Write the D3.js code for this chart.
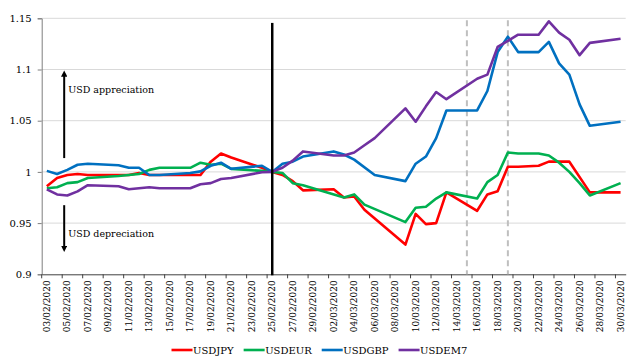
<!DOCTYPE html>
<html>
<head>
<meta charset="utf-8">
<script src="https://cdn.jsdelivr.net/npm/d3@7"></script>
<style>
  body { margin: 0; background: #fff; }
  svg text { font-family: 'DejaVu Serif', serif; fill: #000; }
</style>
</head>
<body>
<svg id="chart" width="638" height="360"></svg>
<script>
'use strict';

// one category per calendar day, 03/02/2020 .. 30/03/2020
let dates = [
  "03/02/2020","04/02/2020","05/02/2020","06/02/2020","07/02/2020","08/02/2020","09/02/2020",
  "10/02/2020","11/02/2020","12/02/2020","13/02/2020","14/02/2020","15/02/2020","16/02/2020",
  "17/02/2020","18/02/2020","19/02/2020","20/02/2020","21/02/2020","22/02/2020","23/02/2020",
  "24/02/2020","25/02/2020","26/02/2020","27/02/2020","28/02/2020","29/02/2020","01/03/2020",
  "02/03/2020","03/03/2020","04/03/2020","05/03/2020","06/03/2020","07/03/2020","08/03/2020",
  "09/03/2020","10/03/2020","11/03/2020","12/03/2020","13/03/2020","14/03/2020","15/03/2020",
  "16/03/2020","17/03/2020","18/03/2020","19/03/2020","20/03/2020","21/03/2020","22/03/2020",
  "23/03/2020","24/03/2020","25/03/2020","26/03/2020","27/03/2020","28/03/2020","29/03/2020",
  "30/03/2020"
];

// null = no point that day (line runs straight across)
let usdjpy = [
  0.986,0.994,0.997,0.998,0.997,null,null,
  0.997,0.997,0.999,0.997,0.997,null,null,
  0.997,0.997,1.010,1.018,1.014,null,null,
  1.004,1.000,0.997,0.991,0.982,null,null,
  0.983,0.975,0.976,0.963,null,null,null,
  0.929,0.959,0.949,0.950,0.980,null,null,
  0.962,0.978,0.981,1.005,1.005,null,1.006,
  1.010,1.010,1.010,null,0.980,null,null,
  0.980
];
let usdeur = [
  0.984,0.985,0.989,0.990,0.994,null,null,
  0.996,0.997,0.998,1.002,1.004,null,null,
  1.004,1.009,1.007,1.008,1.003,null,null,
  1.001,1.000,0.999,0.989,0.987,null,null,
  null,0.975,0.978,0.968,null,null,null,
  0.951,0.965,0.966,0.974,0.980,null,null,
  0.974,0.990,0.997,1.019,1.018,null,1.018,
  1.016,1.009,1.000,0.989,0.977,null,null,
  0.989
];
let usdgbp = [
  1.001,0.998,1.002,1.007,1.008,null,null,
  1.0065,1.004,1.004,0.997,0.997,null,null,
  0.999,1.0005,1.006,1.009,1.003,null,null,
  1.006,1.000,1.008,1.010,1.015,null,null,
  1.020,1.017,1.012,null,0.997,null,null,
  0.991,1.008,1.015,1.033,1.060,null,null,
  1.060,1.079,1.117,1.132,1.117,null,1.117,
  1.127,1.106,1.095,1.066,1.045,null,null,
  1.049
];
let usdem7 = [
  0.983,0.978,0.977,0.981,0.987,null,null,
  0.986,0.983,0.984,0.985,0.984,null,null,
  0.984,0.988,0.989,0.993,0.994,null,null,
  0.9996,1.000,1.004,1.011,1.020,null,null,
  1.016,1.016,1.019,1.026,1.033,null,null,
  1.062,1.049,1.064,1.078,1.071,null,null,
  1.091,1.095,1.122,1.128,1.134,null,1.134,
  1.147,1.136,1.129,1.114,1.126,null,null,
  1.130
];

let seriesNames = ["USDJPY", "USDEUR", "USDGBP", "USDEM7"];
let seriesColors = ["#ff0000", "#00b050", "#0070c0", "#7030a0"];
let yTicks = [0.9, 0.95, 1, 1.05, 1.1, 1.15];
let markerDate = "25/02/2020";
let dashedDates = ["15/03/2020", "19/03/2020"];

let margin = {top: 18.3, right: 12.3, bottom: 85.7, left: 41.7};
let width = 638 - margin.left - margin.right;
let height = 360 - margin.top - margin.bottom;

let svg = d3.select("#chart");
let g = svg.append("g")
  .attr("transform", "translate(" + margin.left + "," + margin.top + ")");

let x = d3.scaleBand().domain(dates).range([0, width]).padding(0);
let xc = function(d) { return x(d) + x.bandwidth() / 2; };
let y = d3.scaleLinear().domain([0.9, 1.15]).range([height, 0]);

// gridlines
g.append("g").selectAll("line")
  .data(yTicks.filter(function(d) { return d > 0.9; }))
  .enter().append("line")
    .attr("x1", 0).attr("x2", width)
    .attr("y1", function(d) { return y(d); })
    .attr("y2", function(d) { return y(d); })
    .attr("stroke", "#d9d9d9").attr("stroke-width", 1);

// y axis
let yAxis = g.append("g")
  .call(d3.axisLeft(y).tickValues(yTicks).tickSize(4).tickPadding(6)
    .tickFormat(function(d) { return String(+d.toFixed(2)); }));
yAxis.attr("font-family", null);
yAxis.select(".domain").attr("stroke", "#7f7f7f");
yAxis.selectAll(".tick line").attr("stroke", "#7f7f7f");
yAxis.selectAll("text").style("font-size", "10px");

// x axis: labels on every second category, tick marks on category boundaries
let labelDates = dates.filter(function(d, i) { return i % 2 === 0; });
let xAxis = g.append("g")
  .attr("transform", "translate(0," + height + ")")
  .call(d3.axisBottom(x).tickValues(labelDates).tickSize(0).tickSizeOuter(0));
xAxis.attr("font-family", null);
xAxis.select(".domain").attr("stroke", "#404040");
xAxis.selectAll("text")
  .style("font-size", "9px")
  .attr("text-anchor", "end")
  .attr("transform", "rotate(-90)")
  .attr("x", -6).attr("y", 0).attr("dy", "0.35em");
xAxis.selectAll(".boundary")
  .data(labelDates)
  .enter().append("line")
    .attr("class", "boundary")
    .attr("x1", function(d) { return x(d); })
    .attr("x2", function(d) { return x(d); })
    .attr("y1", 0).attr("y2", 4)
    .attr("stroke", "#404040");

// dashed event lines
g.selectAll(".event")
  .data(dashedDates)
  .enter().append("line")
    .attr("class", "event")
    .attr("x1", xc).attr("x2", xc)
    .attr("y1", y(1.148)).attr("y2", height)
    .attr("stroke", "#bfbfbf").attr("stroke-width", 2)
    .attr("stroke-dasharray", "6,4");

// series
let allSeries = [usdjpy, usdeur, usdgbp, usdem7];
let line = d3.line()
  .x(function(d) { return xc(d.date); })
  .y(function(d) { return y(d.value); });

allSeries.forEach(function(vals, k) {
  let pts = dates.map(function(d, i) { return {date: d, value: vals[i]}; })
    .filter(function(p) { return p.value !== null; });
  g.append("path")
    .datum(pts)
    .attr("fill", "none")
    .attr("stroke", seriesColors[k])
    .attr("stroke-width", 2.6)
    .attr("stroke-linejoin", "round")
    .attr("d", line);
});

// base date marker
g.append("line")
  .attr("x1", xc(markerDate)).attr("x2", xc(markerDate))
  .attr("y1", y(1.1455)).attr("y2", height + 1)
  .attr("stroke", "#000").attr("stroke-width", 2.5);

// arrows and annotations
let defs = svg.append("defs");
defs.append("marker")
  .attr("id", "arrowhead")
  .attr("viewBox", "0 0 10 10")
  .attr("refX", 5).attr("refY", 5)
  .attr("markerWidth", 3.2).attr("markerHeight", 3.2)
  .attr("orient", "auto-start-reverse")
  .append("path").attr("d", "M0,0L10,5L0,10z").attr("fill", "#000");

let ax = x(dates[2]) + 2;
g.append("line")
  .attr("x1", ax).attr("x2", ax)
  .attr("y1", y(1.0135)).attr("y2", y(1.096))
  .attr("stroke", "#000").attr("stroke-width", 2)
  .attr("marker-end", "url(#arrowhead)");
g.append("line")
  .attr("x1", ax).attr("x2", ax)
  .attr("y1", y(0.9675)).attr("y2", y(0.925))
  .attr("stroke", "#000").attr("stroke-width", 2)
  .attr("marker-end", "url(#arrowhead)");

g.append("text")
  .attr("x", ax + 4).attr("y", y(1.0775))
  .style("font-size", "9.5px")
  .text("USD appreciation");
g.append("text")
  .attr("x", ax + 4).attr("y", y(0.9365))
  .style("font-size", "9.5px")
  .text("USD depreciation");

// legend
let legend = svg.append("g").attr("transform", "translate(171.5,350)");
let lx = 0;
seriesNames.forEach(function(name, k) {
  legend.append("line")
    .attr("x1", lx).attr("x2", lx + 21)
    .attr("y1", 0).attr("y2", 0)
    .attr("stroke", seriesColors[k]).attr("stroke-width", 2.6);
  let t = legend.append("text")
    .attr("x", lx + 21.5).attr("y", 0).attr("dy", "0.35em")
    .style("font-size", "10px")
    .text(name);
  lx += 21.5 + t.node().getComputedTextLength() + 10;
});
</script>
</body>
</html>
